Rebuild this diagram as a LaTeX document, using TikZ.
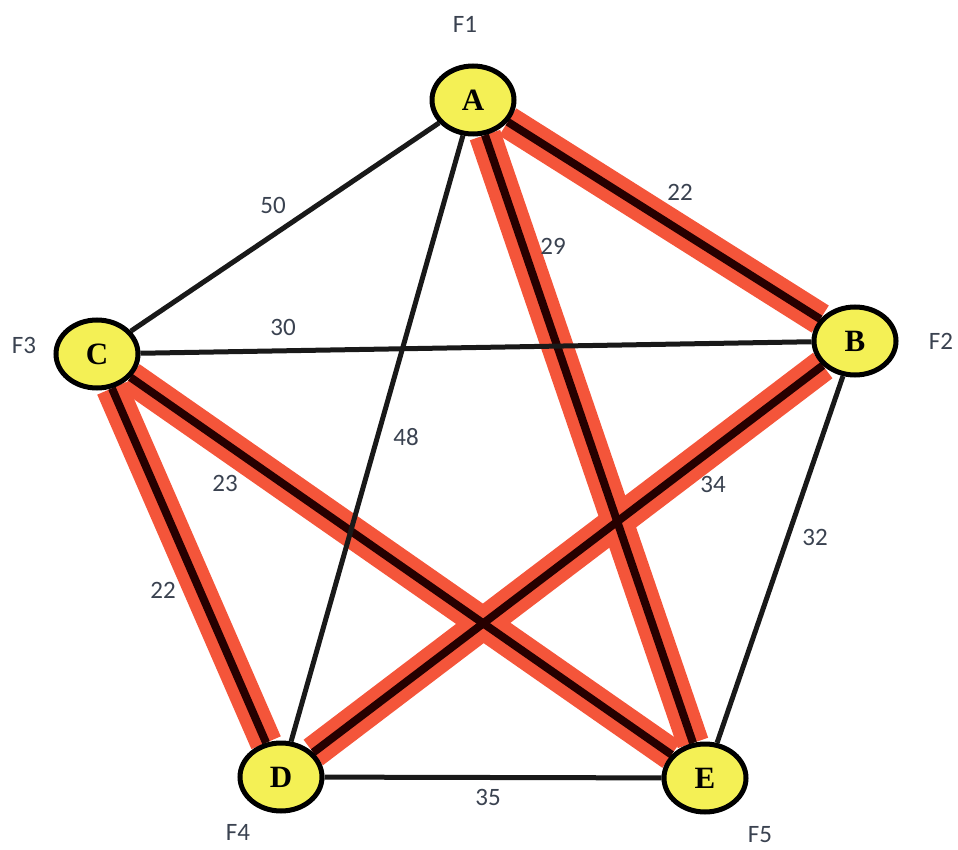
\documentclass[tikz,border=0pt]{standalone}
\usepackage{fontspec}
\setmainfont{Liberation Serif}
\newfontfamily\labelfont{Carlito}
\usetikzlibrary{shapes.geometric, backgrounds}
\definecolor{tourred}{HTML}{F4553A}
\definecolor{cityyellow}{HTML}{F4F055}
\definecolor{labelgray}{HTML}{3A4250}

\begin{document}
\begin{tikzpicture}[x=1pt, y=-1pt,
    city/.style={draw, line width=5pt, ellipse, fill=cityyellow, minimum width=82pt, minimum height=68pt, inner sep=0pt, font=\bfseries\fontsize{31}{31}\selectfont},
    tag/.style={text=labelgray, font=\labelfont\fontsize{25}{25}\selectfont},
    road/.style={line width=5pt, black!90},
    tour/.style={line width=32pt, tourred},
    tourline/.style={line width=8pt, black!85!red}
  ]
  \useasboundingbox (0,0) rectangle (958,850);

  % cities
  \node[city] (A) at (473,100) {A};
  \node[city] (B) at (855,341) {B};
  \node[city] (C) at (97,354) {C};
  \node[city] (D) at (281,777) {D};
  \node[city] (E) at (705,778) {E};

  % names
  \node[tag] (fA) at (465,24) {F1};
  \node[tag] (fB) at (941,341) {F2};
  \node[tag] (fC) at (24,345) {F3};
  \node[tag] (fD) at (238,832) {F4};
  \node[tag] (fE) at (760,835) {F5};

  % edge weights
  \node[tag] (wAC) at (273,205) {50};
  \node[tag] (wAB) at (680,192) {22};
  \node[tag] (wAE) at (553,246) {29};
  \node[tag] (wBC) at (283,327) {30};
  \node[tag] (wAD) at (406,437) {48};
  \node[tag] (wBD) at (713,484) {34};
  \node[tag] (wBE) at (815,537) {32};
  \node[tag] (wCE) at (225,483) {23};
  \node[tag] (wCD) at (163,590) {22};
  \node[tag] (wDE) at (488,797) {35};

  \begin{scope}[on background layer]
    % highlighted tour
    \foreach \u/\v in {A/B, A/E, C/E, C/D, B/D}
      \draw[tour] (\u) -- (\v);
    \foreach \u/\v in {A/B, A/E, C/E, C/D, B/D}
      \draw[tourline] (\u) -- (\v);
    % other roads
    \foreach \u/\v in {A/C, A/D, C/B, B/E, D/E}
      \draw[road] (\u) -- (\v);
  \end{scope}
\end{tikzpicture}
\end{document}
